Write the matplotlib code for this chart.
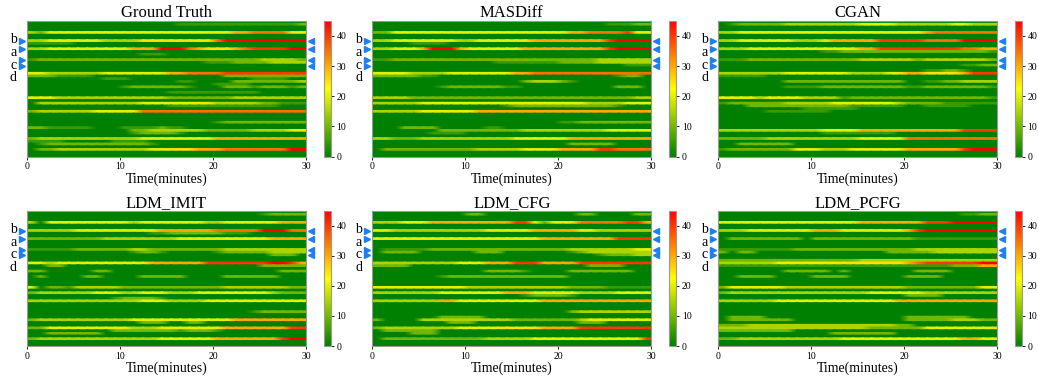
import numpy as np
import matplotlib
matplotlib.use('Agg')
import matplotlib.pyplot as plt
from matplotlib.colors import LinearSegmentedColormap
from matplotlib.transforms import blended_transform_factory

plt.rcParams['font.family'] = ['Liberation Serif', 'DejaVu Serif']

# each row is one lane, one digit per minute (0..29), value = digit * 5
Z = "0" * 30

gt = [
    Z,
    "0000000000" "0000001111" "1111111112",
    Z, Z,
    "3244444444" "4444444444" "4466777754",
    Z, Z,
    "3344444433" "3355555555" "7999999999",
    "1111100000" "0000000000" "0000000000",
    Z,
    "3344444444" "4666999765" "5567888899",
    Z,
    "0000000000" "0011100000" "0000000000",
    Z,
    "1222222222" "2222222222" "2222233332",
    "0000000000" "0000000001" "1122223333",
    Z, Z, Z,
    "4433333344" "4444466777" "7888888888",
    "2221111000" "0000000000" "0222222222",
    "0000000011" "1000000000" "0000111100",
    "0000000000" "0000001100" "0022222223",
    "0000000000" "0000000000" "1111000000",
    "0000000000" "1222222100" "0222122212",
    Z,
    "0000000000" "0000011111" "1111100000",
    Z,
    "4443333333" "3333322222" "2233333333",
    Z,
    "0333333333" "3344444445" "3333322111",
    "0000000000" "0000011111" "1111111000",
    Z,
    "2333333444" "4477777777" "7777777777",
    Z, Z, Z,
    "0000000000" "0000000000" "1222222222",
    Z,
    "2211111000" "1111211000" "0000000000",
    "0000000000" "0223333332" "2222333345",
    "0000000000" "0122221000" "0000000000",
    Z,
    "2333333333" "3344444444" "6666666666",
    "1111000001" "1110000000" "0000000000",
    "0122222222" "2221000000" "0000000000",
    Z,
    "0223333333" "3334455566" "6777777799",
    Z, Z,
]

masdiff = [
    Z,
    "0000000000" "0000000000" "0000011122",
    Z, Z,
    "2244444444" "4444444444" "4667777854",
    Z, Z,
    "3344444443" "3444445666" "6666689999",
    "0000111100" "0000000000" "0000000000",
    Z,
    "3344469996" "5444446666" "6666689999",
    Z, Z, Z,
    "1122222222" "2222222222" "2222333333",
    "0000000000" "0001111111" "2222333333",
    "0000000000" "0000000000" "0000000111",
    Z, Z,
    "4444333344" "4444466777" "7777777777",
    "2222211000" "0000000000" "0000001220",
    Z,
    "0000000000" "0000002333" "2100000000",
    Z,
    "0000000122" "2222110000" "0000002220",
    Z, Z, Z,
    "3333222222" "2222222222" "2222222233",
    Z,
    "3333344444" "4444444444" "4443333444",
    "0000000000" "0000122222" "2222221000",
    Z,
    "3333344444" "4666666666" "6666666666",
    Z, Z, Z,
    "0000000000" "0000000000" "1122222222",
    Z,
    "0002222000" "0011000000" "0000000000",
    "0000000222" "2222223333" "3333344444",
    "0000001111" "0000000000" "0000000000",
    Z,
    "3322233333" "3333344444" "4666666666",
    Z,
    "0000000000" "0000000000" "0222220000",
    Z,
    "0222222222" "2333334444" "6666887777",
    Z, Z,
]

cgan = [
    Z,
    "0122222333" "3333344443" "3333344333",
    Z, Z,
    "3344444444" "4444444444" "4467777777",
    Z, Z,
    "3344444433" "3466666888" "8877779999",
    Z, Z,
    "3334444444" "4444466888" "8888887766",
    "0000000000" "0112222222" "2222222221",
    Z, Z,
    "1112222222" "2222233333" "3233333332",
    Z,
    "0000000000" "0000000000" "0000001122",
    Z,
    "0000000000" "0000000000" "0011221000",
    "3333333444" "4444333345" "6655556888",
    "1111100000" "0000000000" "0000000000",
    Z,
    "0000000222" "2222222222" "0011223333",
    Z,
    "0000000111" "1222222222" "1122222221",
    Z, Z, Z,
    "4444344443" "3331222222" "2222222221",
    Z,
    "1222222333" "3344444443" "2222111111",
    "0002222222" "2222111111" "0011111000",
    "0000000001" "1111100000" "0000000000",
    "0000011111" "1100000000" "0000000000",
    Z, Z, Z, Z, Z, Z,
    "3333333333" "3444466666" "6666668888",
    "0000000000" "0111111110" "0000000000",
    Z,
    "2222233333" "3333344444" "7777777777",
    Z,
    "0022222200" "0000000000" "0000000000",
    Z,
    "1222222244" "4333444444" "6666668999",
    Z, Z,
]

ldm_imit = [
    Z,
    "0000000000" "0000000000" "0000012222",
    Z, Z,
    "3044444444" "4344444443" "3444445666",
    Z, Z,
    "3333344444" "4444666666" "7777799977",
    "0000000000" "0001122222" "2111000000",
    Z,
    "2222222233" "3333334444" "4444446666",
    Z, Z, Z,
    "1111122222" "2332222222" "2333333333",
    "0000000000" "0122100000" "1222223333",
    "0000000000" "0000000000" "0000002220",
    Z, Z,
    "4434444444" "4446666668" "8888889986",
    "0022000000" "0000000000" "0000022222",
    Z,
    "2200000220" "0000000000" "0000000222",
    Z,
    "0200002200" "0022222000" "0222222000",
    Z, Z, Z,
    "4022133333" "2222222222" "2333333322",
    Z,
    "2333333444" "3344433344" "4444443222",
    Z,
    "0000000001" "2222100000" "0000000000",
    "3333333333" "3344433334" "4444444444",
    Z, Z, Z,
    "0000000000" "0000000000" "0000122222",
    Z, Z,
    "2333333333" "3444444444" "4466666666",
    "0000000000" "0022200220" "0000000000",
    Z,
    "2244444444" "4333444444" "4666666688",
    "0000000002" "2222221222" "1000000000",
    "0022222200" "0000000000" "0000000000",
    Z,
    "2333333333" "3333444444" "6666666899",
    Z, Z,
]

ldm_cfg = [
    Z,
    "0000000000" "2200000000" "0022000022",
    Z, Z,
    "3334446666" "6666688424" "5577777886",
    Z, Z,
    "4433333333" "3344444666" "6644333333",
    Z, Z,
    "4444444444" "4444444466" "6666668888",
    Z, Z, Z,
    "0111112222" "2222222222" "2333333344",
    "0222200000" "0222000000" "0123333333",
    "0000000000" "0000000000" "0000122233",
    Z, Z,
    "3333333334" "4466688866" "6688888888",
    "2222000000" "0000000000" "0002222000",
    Z,
    "0000000000" "0022221000" "0222222200",
    Z,
    "0000000122" "2222222222" "2000000000",
    Z, Z, Z,
    "4444444444" "3333333333" "3222211111",
    Z,
    "3333333444" "4444666444" "4433334444",
    "0000000000" "0000001222" "2100000000",
    Z,
    "3333333664" "4444444466" "6666666666",
    Z, Z, Z,
    "0000000000" "0000000000" "0233333333",
    Z,
    "0000000222" "2200000000" "0000000000",
    "2000033333" "3333322222" "2234444444",
    "0000000022" "2000000000" "0022200000",
    Z,
    "2333333334" "4444555566" "6688888888",
    "0222222000" "0000000000" "0000000000",
    "0000222000" "0000000000" "0000000000",
    Z,
    "0222222222" "2233333444" "4444444448",
    Z, Z,
]

ldm_pcfg = [
    Z,
    "0000000000" "0000000000" "0000001122",
    Z, Z,
    "4444444444" "4444466666" "6688899999",
    Z, Z,
    "3334444444" "6664444444" "6899999999",
    Z, Z,
    "0222222220" "2222222222" "2111111111",
    Z, Z, Z,
    "1111111122" "2222222222" "2333333333",
    "2022000000" "0000000022" "2223333333",
    Z, Z,
    "2222222222" "2222233333" "3333333333",
    "3333334444" "4445555555" "6788888899",
    "1111111111" "1111111111" "1111122266",
    Z,
    "0000000222" "2202000000" "0222200000",
    Z,
    "0022220000" "2222000000" "2222000000",
    Z, Z, Z,
    "2444444333" "3333333333" "2222222244",
    Z,
    "2333333333" "3333334444" "4433333333",
    "0000000000" "0000000000" "2222000000",
    Z,
    "3333334444" "4444444446" "6666666666",
    Z, Z, Z, Z, Z,
    "0222200000" "0000000000" "2222222000",
    "0222222200" "0000000000" "2222233322",
    Z,
    "2223333333" "3333333332" "2000000000",
    "3333333333" "3333332222" "2244444445",
    "2222222200" "0000000000" "0000000000",
    "0000000000" "0022222220" "0000000000",
    Z,
    "2233333333" "3334444444" "4444446644",
    Z, Z,
]

titles = ['Ground Truth', 'MASDiff', 'CGAN', 'LDM_IMIT', 'LDM_CFG', 'LDM_PCFG']
panels = [gt, masdiff, cgan, ldm_imit, ldm_cfg, ldm_pcfg]
marked_rows = [7, 10, 14, 16]          # lanes b, a, c, d
lane_names = ['b', 'a', 'c', 'd']


def to_array(rows):
    return np.array([[int(ch) * 5 for ch in r[:30].ljust(30, r[-1])] for r in rows], dtype=float)


cmap = LinearSegmentedColormap.from_list('gyr', ['green', 'yellow', 'red'])

W, H = 1038, 379
fig = plt.figure(figsize=(W / 100, H / 100), dpi=100)

heat_x = [27, 372.3, 718.3]
heat_w = 279
cbar_x = [324, 669.3, 1015]
row_y = [(20.7, 156.7), (210.7, 346)]

for k, (name, rows) in enumerate(zip(titles, panels)):
    data = to_array(rows)
    n = data.shape[0]
    r, c = divmod(k, 3)
    y0, y1 = row_y[r]
    ax = fig.add_axes([heat_x[c] / W, 1 - y1 / H, heat_w / W, (y1 - y0) / H])
    cax = fig.add_axes([cbar_x[c] / W, 1 - y1 / H, 7 / W, (y1 - y0) / H])

    # smooth along time only: each lane drawn as its own strip
    xs = np.concatenate([[0], np.arange(30) + 0.5, [30]])
    vals = np.concatenate([data[:, :1], data, data[:, -1:]], axis=1)
    ys = np.repeat(np.arange(n + 1), 2)[1:-1]
    X, Y = np.meshgrid(xs, ys)
    C = np.repeat(vals, 2, axis=0)
    mesh = ax.pcolormesh(X, Y, C, shading='gouraud', cmap=cmap, vmin=0, vmax=45,
                         rasterized=True)
    ax.set_xlim(0, 30)
    ax.set_ylim(n, 0)
    ax.set_xticks([0, 10, 20, 30])
    ax.set_yticks([])
    ax.tick_params(axis='x', labelsize=7, length=2.5, width=0.6, pad=1.5)
    for s in ax.spines.values():
        s.set_color('#999999')
        s.set_linewidth(0.8)
    ax.set_title(name, fontsize=12, pad=2)
    ax.set_xlabel('Time(minutes)', fontsize=10, labelpad=1)

    tr = blended_transform_factory(ax.transAxes, ax.transData)
    ys_mark = [m + 0.5 for m in marked_rows]
    ax.plot([-0.018] * 4, ys_mark, linestyle='none', marker='>', markersize=4,
            color='#1e7ff5', clip_on=False, transform=tr)
    ax.plot([1.018] * 4, ys_mark, linestyle='none', marker='<', markersize=4,
            color='#1e7ff5', clip_on=False, transform=tr)
    ax.text(-0.049, 4.5, '\n'.join(lane_names), transform=tr, ha='center', va='top',
            fontsize=10, linespacing=0.98)

    cb = fig.colorbar(mesh, cax=cax, ticks=[0, 10, 20, 30, 40])
    cb.ax.tick_params(labelsize=7, length=2.5, width=0.6, pad=1.5)
    cb.outline.set_edgecolor('#999999')
    cb.outline.set_linewidth(0.8)

fig.savefig('out.png', dpi=100)
